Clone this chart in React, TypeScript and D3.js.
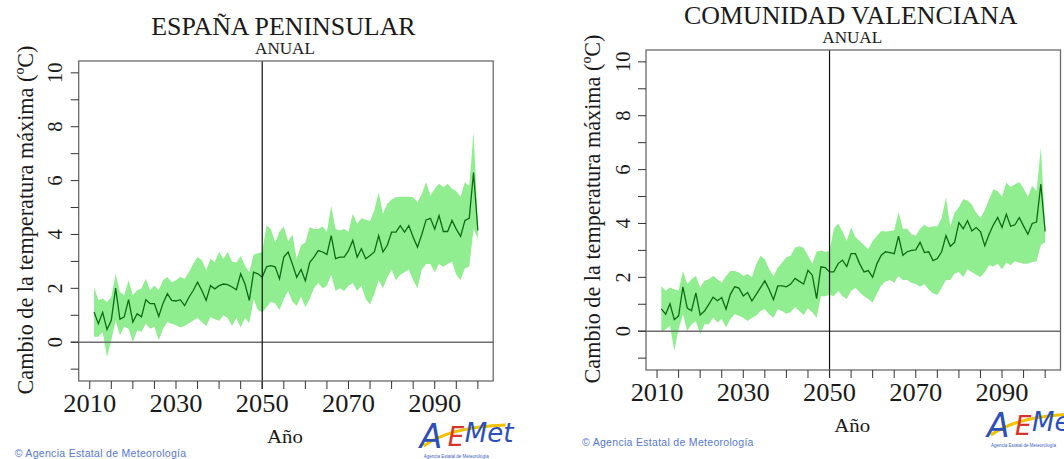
import React from 'react';
import * as d3 from 'd3';

// years 2011..2100
const years = d3.range(2011, 2101);

const xTicks = d3.range(2010, 2101, 5);
const xLabels = [2010, 2030, 2050, 2070, 2090];
const yTicks = d3.range(-1, 11);
const yLabels = [0, 2, 4, 6, 8, 10];

// España peninsular
const espMean = [
  1.12, 0.69, 1.11, 0.47, 0.81, 2.01, 0.85, 0.94, 1.58, 0.75,
  1.06, 0.94, 1.58, 1.43, 1.43, 0.96, 1.45, 1.8, 1.55, 1.53,
  1.58, 1.36, 1.67, 1.92, 2.23, 1.92, 1.55, 2.1, 1.98, 2.1,
  2.16, 2.14, 2.05, 1.95, 2.54, 2.16, 1.55, 2.6, 2.54, 2.41,
  2.8, 2.84, 2.8, 2.35, 3.16, 3.35, 2.9, 2.41, 2.7, 2.28,
  2.96, 3.16, 3.4, 3.35, 3.26, 3.96, 3.1, 3.16, 3.16, 3.4,
  3.78, 3.16, 3.47, 3.1, 3.22, 3.35, 3.96, 3.35, 3.6, 4.09,
  4.09, 4.33, 4.09, 4.33, 3.9, 3.53, 4.0, 4.54, 4.6, 4.2,
  4.7, 4.11, 4.11, 4.52, 4.2, 3.93, 4.52, 4.6, 6.3, 4.15,
];
const espUpper = [
  2.05, 1.56, 1.62, 1.49, 1.68, 2.54, 1.86, 1.74, 2.3, 1.74,
  1.93, 1.99, 2.36, 1.93, 2.11, 1.93, 2.3, 2.42, 2.23, 2.3,
  2.42, 2.36, 2.6, 2.91, 3.16, 3.04, 2.67, 3.1, 2.98, 3.35,
  3.1, 3.35, 3.0, 2.95, 3.2, 2.85, 2.6, 3.25, 3.3, 3.35,
  4.33, 4.2, 3.7, 4.1, 4.3, 3.75, 4.0, 3.1, 3.6, 3.7,
  4.27, 4.2, 4.2, 4.3, 4.1, 5.07, 4.2, 4.15, 4.2, 4.1,
  4.77, 4.4, 4.6, 4.55, 4.5, 4.9, 5.57, 4.77, 5.14, 5.3,
  5.38, 5.4, 5.4, 5.4, 5.38, 5.2, 5.5, 5.94, 5.45, 5.7,
  5.88, 5.75, 5.88, 5.7, 5.6, 5.4, 5.94, 5.8, 7.79, 4.5,
];
const espLower = [
  0.2, 0.2, 0.38, -0.54, 0.07, 0.81, 0.26, 0.57, 0.5, 0.01,
  0.44, 0.38, 0.69, 0.5, 0.57, 0.07, 0.5, 0.75, 0.69, 0.63,
  0.55, 0.6, 0.7, 0.81, 0.9, 0.75, 0.6, 0.94, 0.85, 0.8,
  1.0, 0.9, 0.6, 0.9, 0.55, 0.9, 0.7, 1.6, 1.2, 1.1,
  1.3, 1.5, 1.45, 1.2, 1.6, 1.9, 1.5, 1.35, 1.7, 1.3,
  1.6, 2.0, 2.2, 2.0, 2.1, 2.5, 1.9, 2.0, 1.9, 2.1,
  2.2, 1.9, 2.1, 1.6, 1.4, 1.8, 2.3, 2.0, 2.4, 2.7,
  2.3, 2.5, 2.6, 2.7, 2.3, 2.0, 2.7, 2.9, 2.9, 2.6,
  2.9, 2.8, 2.9, 3.0, 2.5, 2.3, 2.75, 2.8, 4.2, 3.84,
];

// Comunidad Valenciana
const valMean = [
  0.83, 0.63, 1.02, 0.43, 0.57, 1.65, 0.86, 0.76, 1.42, 0.6,
  0.75, 1.0, 1.26, 1.13, 1.25, 0.82, 1.37, 1.65, 1.6, 1.31,
  1.44, 1.12, 1.37, 1.62, 1.87, 1.55, 1.17, 1.68, 1.68, 1.65,
  1.75, 1.96, 1.85, 1.75, 2.26, 2.08, 1.21, 2.39, 2.36, 2.2,
  2.2, 2.51, 2.64, 2.4, 2.88, 2.88, 2.5, 2.2, 2.25, 2.0,
  2.51, 2.82, 2.95, 2.92, 2.88, 3.53, 2.82, 2.95, 3.0, 3.02,
  3.3, 2.92, 2.95, 2.62, 2.7, 2.95, 3.55, 3.15, 3.3, 4.03,
  3.8, 4.1, 3.72, 3.85, 3.7, 3.17, 3.6, 3.95, 4.22, 3.85,
  4.34, 3.9, 3.95, 4.22, 3.9, 3.6, 4.0, 4.05, 5.46, 3.7,
];
const valUpper = [
  1.68, 1.5, 1.62, 1.56, 1.5, 2.24, 1.75, 1.93, 2.05, 1.62,
  1.87, 1.93, 2.05, 1.93, 1.81, 2.05, 2.24, 2.24, 2.18, 2.05,
  2.12, 2.0, 2.49, 2.8, 2.67, 2.3, 2.05, 2.36, 2.55, 2.75,
  2.8, 3.1, 3.15, 3.1, 2.8, 2.5, 2.96, 3.0, 2.95, 2.98,
  3.8, 4.0, 3.7, 3.35, 3.85, 3.5, 3.35, 3.2, 3.04, 3.35,
  3.54, 3.72, 3.7, 3.72, 3.75, 4.43, 3.8, 3.8, 3.6, 3.54,
  3.8, 3.95, 3.85, 3.9, 3.9, 4.2, 4.96, 3.9, 4.4, 4.6,
  4.9, 4.85, 4.7, 4.4, 4.2, 4.5, 4.9, 5.27, 5.2, 5.0,
  5.52, 5.35, 5.45, 5.54, 5.3, 5.0, 5.4, 5.2, 6.82, 3.9,
];
const valLower = [
  -0.05, 0.07, 0.2, -0.73, 0.07, 0.63, 0.01, 0.26, 0.38, -0.11,
  0.26, 0.26, 0.5, 0.32, 0.45, 0.14, 0.45, 0.63, 0.57, 0.5,
  0.38, 0.5, 0.57, 0.75, 0.82, 0.63, 0.5, 0.82, 0.75, 0.65,
  0.7, 0.9, 0.75, 0.6, 0.85, 0.7, 0.5, 1.3, 1.3, 1.35,
  1.3, 1.5, 1.3, 1.2, 1.5, 1.6, 1.45, 1.3, 1.2, 1.07,
  1.4, 1.7, 1.85, 1.9, 1.8, 2.05, 1.9, 1.9, 1.8, 1.75,
  1.65, 1.75, 1.55, 1.4, 1.35, 1.6, 1.9, 1.9, 2.14, 2.2,
  2.0, 2.3, 2.2, 2.1, 2.0, 2.2, 2.45, 2.4, 2.5, 2.3,
  2.55, 2.45, 2.6, 2.55, 2.5, 2.5, 2.57, 2.6, 3.2, 3.3,
];

const W = 414.5;
const H = 320;
const SX = 1.07; // the picture is a bit stretched horizontally
const serif = '"Liberation Serif", "Times New Roman", serif';

const x = d3.scaleLinear().domain([2007.44, 2103.56]).range([0, W]);
const y = d3.scaleLinear().domain([-1.44, 10.44]).range([H, 0]);

const Panel = ({ ox, oy, title, mean, upper, lower }) => {
  const rows = years.map((yr, i) => ({ yr, m: mean[i], hi: upper[i], lo: lower[i] }));
  const area = d3.area().x(d => x(d.yr)).y0(d => y(d.lo)).y1(d => y(d.hi));
  const line = d3.line().x(d => x(d.yr)).y(d => y(d.m));

  return (
    <g transform={`translate(${ox},${oy})`}>
      {/* title */}
      <text transform={`translate(${W / 2 - 2.5},-26) scale(${SX},1)`} textAnchor="middle"
        fontFamily={serif} fontSize={24.2} fill="#1a1a1a">{title}</text>
      <text transform={`translate(${W / 2 - 1},-7.5) scale(${SX},1)`} textAnchor="middle"
        fontFamily={serif} fontSize={16} fill="#1a1a1a">ANUAL</text>

      {/* band + mean */}
      <path d={area(rows)} fill="#90ee90" />
      <path d={line(rows)} fill="none" stroke="#0b6b14" strokeWidth={1.3} />

      {/* reference lines */}
      <line x1={-8} x2={W} y1={y(0)} y2={y(0)} stroke="#6e6e6e" strokeWidth={1.6} />
      <line x1={x(2050)} x2={x(2050)} y1={0} y2={H + 8} stroke="#111" strokeWidth={1.2} />

      {/* box */}
      <rect x={0} y={0} width={W} height={H} fill="none" stroke="#6a6a6a" strokeWidth={1.3} />

      {/* y axis */}
      {yTicks.map(t => (
        <line key={'yt' + t} x1={-8} x2={0} y1={y(t)} y2={y(t)} stroke="#333" strokeWidth={1} />
      ))}
      {yLabels.map(t => (
        <text key={'yl' + t} transform={`translate(-16.5,${y(t)}) scale(${SX},1) rotate(-90)`}
          textAnchor="middle" fontFamily={serif} fontSize={20.5} fill="#1a1a1a">{t}</text>
      ))}
      <text transform={`translate(-45.7,${159}) scale(${SX},1) rotate(-90)`} textAnchor="middle"
        fontFamily={serif} fontSize={22.2} fill="#1a1a1a">Cambio de la temperatura máxima (ºC)</text>

      {/* x axis */}
      {xTicks.map(t => (
        <line key={'xt' + t} x1={x(t)} x2={x(t)} y1={H} y2={H + 8} stroke="#333" strokeWidth={1} />
      ))}
      {xLabels.map(t => (
        <text key={'xl' + t} transform={`translate(${x(t)},${H + 30.5}) scale(${SX},1)`}
          textAnchor="middle" fontFamily={serif} fontSize={24.7} fill="#1a1a1a">{t}</text>
      ))}
      <text transform={`translate(${W / 2 - 1},${H + 62}) scale(${SX},1)`} textAnchor="middle"
        fontFamily={serif} fontSize={19.5} fill="#1a1a1a">Año</text>

      {/* credits */}
      <text x={-64} y={H + 76} fontFamily='"Liberation Sans", Arial, sans-serif' fontSize={10.5}
        fill="#5677d2" letterSpacing={0.3}>© Agencia Estatal de Meteorología</text>

      {/* AEMet logo */}
      <g transform={`translate(${341},${H + 38})`}>
        <path d="M4,27 Q30,8 86,6" fill="none" stroke="#f2c200" strokeWidth={3} />
        <text x={0} y={29} fontFamily='"DejaVu Sans", sans-serif' fontStyle="italic"
          fontSize={33} fill="#2c4fb8" fontWeight={300}>A</text>
        <text x={28} y={27} fontFamily='"DejaVu Sans", sans-serif' fontStyle="italic"
          fontSize={26} fill="#d8352a">E</text>
        <text x={45} y={23} fontFamily='"DejaVu Sans", sans-serif' fontStyle="italic"
          fontSize={26} fill="#2c4fb8">Met</text>
        <text x={4} y={39} fontFamily='"Liberation Sans", sans-serif' fontSize={4.5}
          fill="#3b5cc0">Agencia Estatal de Meteorología</text>
      </g>
    </g>
  );
};

export default function App() {
  return (
    <svg width={1064} height={459} style={{ position: 'fixed', left: 0, top: 0, background: '#fff' }}>
      <rect width={1064} height={459} fill="#fff" />
      <Panel ox={78.7} oy={61} title="ESPAÑA PENINSULAR" mean={espMean} upper={espUpper} lower={espLower} />
      <Panel ox={646} oy={50} title="COMUNIDAD VALENCIANA" mean={valMean} upper={valUpper} lower={valLower} />
    </svg>
  );
}
